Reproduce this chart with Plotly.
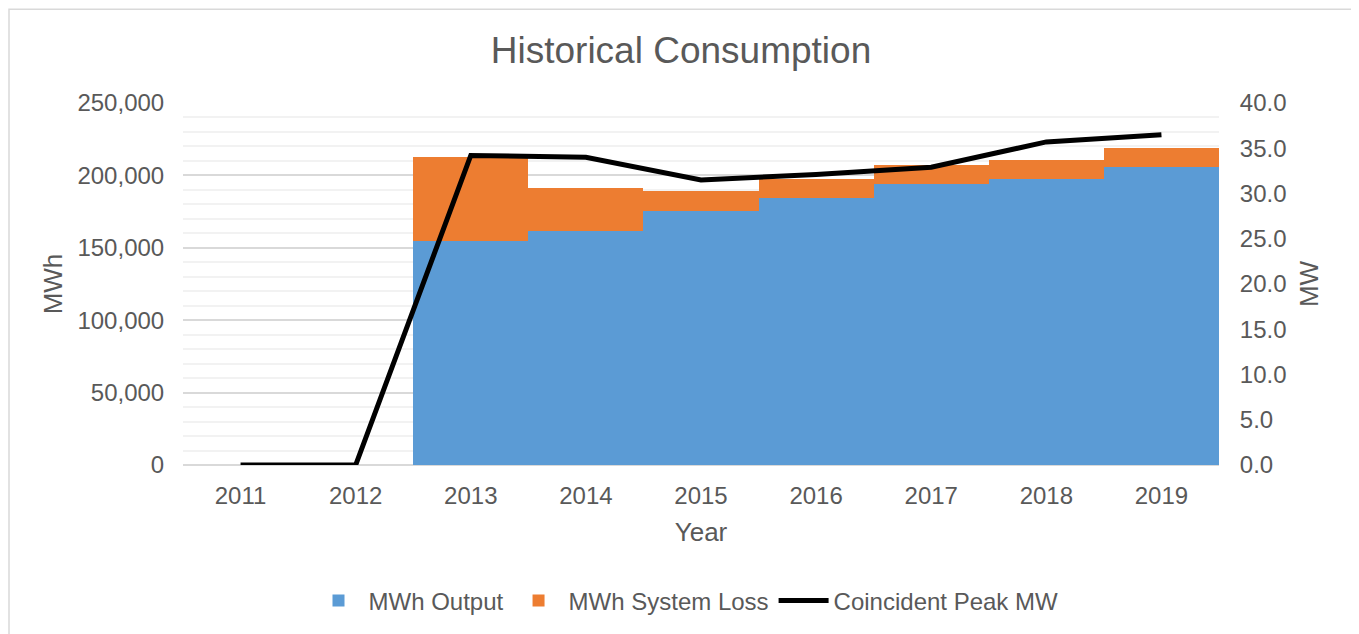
import plotly.graph_objects as go

years = ["2011", "2012", "2013", "2014", "2015", "2016", "2017", "2018", "2019"]
mwh_output = [0, 0, 154800, 161800, 175400, 184300, 194200, 197500, 205700]
mwh_total = [0, 0, 212700, 191200, 189400, 197700, 207300, 210500, 218800]
mwh_loss = [t - o for t, o in zip(mwh_total, mwh_output)]
peak_mw = [0, 0, 34.2, 34.0, 31.5, 32.1, 32.9, 35.7, 36.5]

FONT = "Liberation Sans, Arial, sans-serif"
GRAY = "#595959"

fig = go.Figure()
fig.add_trace(go.Bar(x=years, y=mwh_output, name="MWh Output",
                     marker=dict(color="#5B9BD5", line=dict(width=0)), yaxis="y"))
fig.add_trace(go.Bar(x=years, y=mwh_loss, name="MWh System Loss",
                     marker=dict(color="#ED7D31", line=dict(width=0)), yaxis="y"))
fig.add_trace(go.Scatter(x=years, y=peak_mw, name="Coincident Peak MW", mode="lines",
                         line=dict(color="#000000", width=5), yaxis="y2"))

OFF = 8  # page body margin
W, H = 1359 - OFF, 634 - OFF
# plot area in page (screenshot) coordinates
L, R, T, B = 183, 1219, 103, 466
pw, ph = R - L, B - T

def px(x):
    return (x - L) / pw

def py(y):
    return (B - y) / ph

fig.update_layout(
    width=W, height=H,
    margin=dict(l=L - OFF, r=W - (R - OFF), t=T - OFF, b=H - (B - OFF)),
    paper_bgcolor="white", plot_bgcolor="white",
    barmode="stack", bargap=0,
    font=dict(family=FONT, color=GRAY, size=24),
    title=dict(text="Historical Consumption", x=(681 - OFF) / W, xanchor="center",
               y=1 - (50 - OFF) / H, yanchor="middle", yref="container",
               font=dict(size=37, color=GRAY, family=FONT)),
    xaxis=dict(type="category", range=[-0.5, 8.5], showgrid=False, showline=False,
               ticks="outside", ticklen=9, tickcolor="rgba(0,0,0,0)",
               tickfont=dict(size=24, color=GRAY),
               title=dict(text="Year", font=dict(size=26, color=GRAY), standoff=15)),
    yaxis=dict(range=[0, 250000], dtick=50000, tickformat=",", showgrid=True,
               gridcolor="#D9D9D9", gridwidth=1.5, zeroline=True, zerolinecolor="#D9D9D9",
               zerolinewidth=1.5,
               minor=dict(dtick=10000, showgrid=True, gridcolor="#F2F2F2", gridwidth=1.5),
               ticks="outside", ticklen=13, tickcolor="rgba(0,0,0,0)",
               tickfont=dict(size=24, color=GRAY),
               title=dict(text="MWh", font=dict(size=26, color=GRAY), standoff=7)),
    yaxis2=dict(range=[0, 40], dtick=5, tickformat=".1f", overlaying="y", side="right",
                showgrid=False, zeroline=False,
                ticks="outside", ticklen=15, tickcolor="rgba(0,0,0,0)",
                tickfont=dict(size=24, color=GRAY),
                title=dict(text="MW", font=dict(size=26, color=GRAY), standoff=14)),
    showlegend=True,
    legend=dict(orientation="h", x=px(686), xanchor="center", y=py(601), yanchor="middle",
                font=dict(size=24, color=GRAY), itemwidth=50, traceorder="normal",
                bgcolor="rgba(0,0,0,0)"),
    shapes=[dict(type="rect", xref="paper", yref="paper",
                 x0=px(9), x1=px(1357.5), y0=py(645), y1=py(9),
                 line=dict(color="#D9D9D9", width=1.5), fillcolor="rgba(0,0,0,0)",
                 layer="below")],
)

fig.write_html("out.html")
